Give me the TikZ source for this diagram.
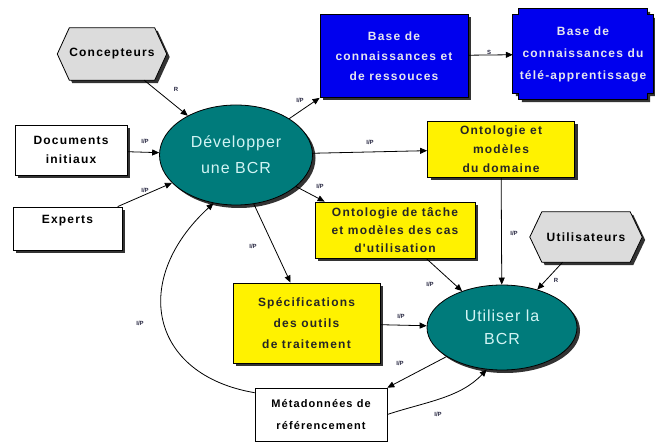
\documentclass[tikz,border=0pt]{standalone}
\usepackage{fontspec}
\setmainfont{Liberation Sans}
\newfontfamily\boxfont[LetterSpace=10]{Liberation Sans}
\newfontfamily\procfont[LetterSpace=6]{Liberation Sans}
\usetikzlibrary{shapes.geometric,arrows.meta,shadows,backgrounds,calc}
\definecolor{tealproc}{HTML}{007B7B}
\definecolor{kbblue}{HTML}{0000EE}
\definecolor{hexgray}{HTML}{DCDCDC}
\definecolor{procink}{HTML}{D2F4F4}
\definecolor{kbink}{HTML}{E6E6EE}
\definecolor{lblink}{HTML}{262640}
\begin{document}
\begin{tikzpicture}[x=1pt,y=-1pt,
  boxshadow/.style={drop shadow={shadow xshift=3pt,shadow yshift=-3pt,fill=black!80,opacity=1}},
  boxtxt/.style={font=\boxfont\bfseries\fontsize{12}{19}\selectfont, align=center},
  wbox/.style={boxtxt, rectangle, draw, line width=0.8pt, fill=white, inner sep=0pt},
  ybox/.style={wbox, fill=yellow, boxshadow, text=black!85},
  kbox/.style={wbox, fill=kbblue, boxshadow, text=kbink},
  proc/.style={ellipse, draw, line width=0.8pt, fill=tealproc, boxshadow, inner sep=0pt,
    text=procink, font=\procfont\fontsize{16}{26}\selectfont, align=center},
  hexnode/.style={boxtxt, rectangle, inner sep=0pt},
  link/.style={line width=0.8pt, -{Triangle[length=7pt,width=6pt]}},
  lbl/.style={font=\bfseries\fontsize{6}{6}\selectfont, text=lblink, inner sep=0pt}
]
\useasboundingbox (0,0) rectangle (655,446);

% actors (hexagons, outlines drawn on the background layer)
\node[hexnode, minimum width=109pt, minimum height=52pt] (conc) at (112,54) {Concepteurs};
\node[hexnode, minimum width=112pt, minimum height=50pt] (users) at (586,237) {Utilisateurs};

% inputs
\node[wbox, boxshadow, minimum width=112pt, minimum height=50pt] (docs) at (71,150) {Documents\\initiaux};
\node[wbox, boxshadow, minimum width=109pt, minimum height=43pt] (experts) at (67.5,228.5) {Experts\\ ~};

% processes
\node[proc, minimum width=153pt, minimum height=100pt] (dev) at (236,155) {Développer\\une BCR};
\node[proc, minimum width=150pt, minimum height=85pt, font=\procfont\fontsize{16}{23}\selectfont] (util) at (502,327.5) {Utiliser la\\BCR};

% knowledge bases
\node[kbox, minimum width=148pt, minimum height=83pt, font=\boxfont\bfseries\fontsize{12}{20}\selectfont] (kb1) at (394,56) {Base de\\connaissances et\\de ressouces};
\node[hexnode, minimum width=140pt, minimum height=90pt, text=kbink, font=\boxfont\bfseries\fontsize{12}{22}\selectfont] (kb2) at (583,54) {Base de\\connaissances du\\télé-apprentissage};

% products
\node[ybox, minimum width=147pt, minimum height=56pt] (ontdom) at (501,149) {Ontologie et\\modèles\\du domaine};
\node[ybox, minimum width=160pt, minimum height=56pt, font=\boxfont\bfseries\fontsize{12}{18}\selectfont] (onttache) at (395,230) {Ontologie de tâche\\et modèles des cas\\d'utilisation};
\node[ybox, minimum width=147pt, minimum height=80pt, font=\boxfont\bfseries\fontsize{12}{21}\selectfont] (spec) at (306.5,323) {Spécifications\\des outils\\de traitement};
\node[wbox, minimum width=132pt, minimum height=53pt, line width=0.6pt, font=\boxfont\bfseries\fontsize{11}{22}\selectfont] (meta) at (321,414.5) {Métadonnées de\\référencement};

\begin{scope}[on background layer]
  \fill[white] (0,0) rectangle (655,446);
  \foreach \h in {conc,users}{
    \filldraw[boxshadow, fill=hexgray, line width=0.8pt]
      (\h.west) -- ($(\h.north west)+(12,0)$) -- ($(\h.north east)+(-12,0)$)
      -- (\h.east) -- ($(\h.south east)+(-12,0)$) -- ($(\h.south west)+(12,0)$) -- cycle;
  }
  \filldraw[boxshadow, fill=kbblue, line width=0.8pt]
    ($(kb2.north west)+(6,0)$) -- ($(kb2.north east)+(-6,0)$) -- ($(kb2.north east)+(-6,6)$)
    -- ($(kb2.north east)+(0,6)$) -- ($(kb2.south east)+(0,-6)$) -- ($(kb2.south east)+(-6,-6)$)
    -- ($(kb2.south east)+(-6,0)$) -- ($(kb2.south west)+(6,0)$) -- ($(kb2.south west)+(6,-6)$)
    -- ($(kb2.south west)+(0,-6)$) -- ($(kb2.north west)+(0,6)$) -- ($(kb2.north west)+(6,6)$) -- cycle;
\end{scope}

% links
\draw[link] (conc) -- (dev);
\draw[link] (docs) -- (dev);
\draw[link] (experts) -- (dev);
\draw[link] (dev) -- (kb1.south west);
\draw[link] (kb1) -- (kb2);
\draw[link] (dev) -- (ontdom);
\draw[link] (dev) -- ([xshift=10pt]onttache.north west);
\draw[link] (dev.290) -- ([xshift=-16pt]spec.north);
\draw[link] ($(meta.north west)+(0,5)$) .. controls (150,375) and (130,280) .. (dev.245);
\draw[link] (ontdom) -- (util);
\draw[link] (users) -- (util);
\draw[link] (onttache) -- (util);
\draw[link] (spec) -- (util);
\draw[link] (util) -- (meta.north east);
\draw[link] (meta.east) .. controls (425,402) and (460,398) .. (util.250);

% link labels
\node[lbl] (r1) at (176,89) {R};
\node[lbl] (p1) at (145,141) {I/P};
\node[lbl] (p2) at (145,190) {I/P};
\node[lbl] (p3) at (300,100) {I/P};
\node[lbl] (s1) at (489,52) {S};
\node[lbl] (p4) at (370,142) {I/P};
\node[lbl] (p5) at (320,186) {I/P};
\node[lbl] (p6) at (253,246) {I/P};
\node[lbl] (p7) at (140,323) {I/P};
\node[lbl] (p8) at (514,233) {I/P};
\node[lbl] (r2) at (556,280) {R};
\node[lbl] (p9) at (430,284) {I/P};
\node[lbl] (p10) at (401,316) {I/P};
\node[lbl] (p11) at (400,363) {I/P};
\node[lbl] (p12) at (438,414) {I/P};
\end{tikzpicture}
\end{document}
